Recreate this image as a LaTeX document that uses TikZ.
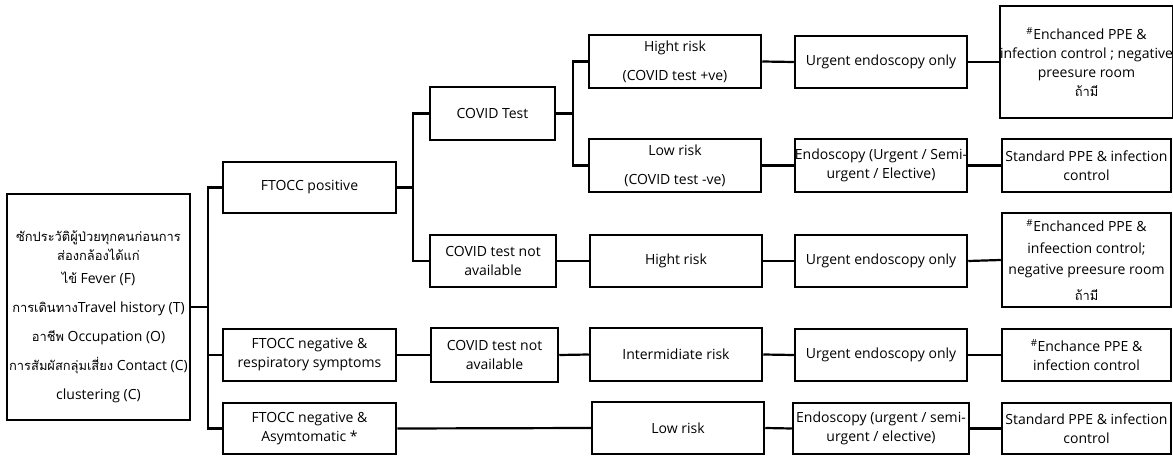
\documentclass[tikz,border=0pt]{standalone}
\usepackage{fontspec}
\setmainfont{Open Sans}
\newfontfamily\thaifont[Script=Thai,Scale=0.92]{Loma}
\usepackage{tikz}

\begin{document}
\begin{tikzpicture}[x=1pt,y=-1pt,
    box/.style={draw,line width=2.5pt,align=center,inner sep=0pt,font=\fontsize{14}{19}\selectfont},
    link/.style={line width=2.2pt}]
\useasboundingbox (0,0) rectangle (1173,457);
% first column
\draw
    (98.5,307) node [box,minimum width=183,minimum height=226] (hist)
    {\rule{0pt}{30pt}{\thaifont ซักประวัติผู้ป่วยทุกคนก่อนการ}\\{\thaifont ส่องกล้องได้แก่}\\[4pt]{\thaifont ไข้} Fever (F)\\[10pt]{\thaifont การเดินทาง}Travel history (T)\\[10pt]{\thaifont อาชีพ} Occupation (O)\\[10pt]{\thaifont การสัมผัสกลุ่มเสี่ยง} Contact (C)\\[10pt]clustering (C)};
\draw
    (309.5,187.5) node [box,minimum width=173,minimum height=51] (pos) {FTOCC positive}
    (309.5,355) node [box,minimum width=173,minimum height=52] (negresp) {FTOCC negative \&\\respiratory symptoms}
    (309.5,428.5) node [box,minimum width=173,minimum height=51] (negasym) {FTOCC negative \&\\Asymtomatic *};
% tests
\draw
    (492.5,113.5) node [box,minimum width=125,minimum height=53] (test) {COVID Test}
    (493,261) node [box,minimum width=126,minimum height=52] (notest) {COVID test not\\available}
    (494.5,355) node [box,minimum width=127,minimum height=54] (notestb) {COVID test not\\available};
% risk
\draw
    (675,61.5) node [box,minimum width=172,minimum height=53] (hirisk) {Hight risk\\[10pt](COVID test +ve)}
    (675,165.5) node [box,minimum width=172,minimum height=53] (lorisk) {Low risk\\[10pt](COVID test -ve)}
    (676,261) node [box,minimum width=172,minimum height=52] (hiriskb) {Hight risk}
    (676,354.5) node [box,minimum width=172,minimum height=53] (midrisk) {Intermidiate risk}
    (678,428) node [box,minimum width=172,minimum height=52] (loriskb) {Low risk};
% endoscopy
\draw
    (881,62) node [box,minimum width=172,minimum height=52] (urg) {Urgent endoscopy only}
    (881,165.5) node [box,minimum width=172,minimum height=53] (endo) {Endoscopy (Urgent / Semi-\\urgent / Elective)}
    (881,261) node [box,minimum width=172,minimum height=52] (urgb) {Urgent endoscopy only}
    (881,355) node [box,minimum width=172,minimum height=52] (urgc) {Urgent endoscopy only}
    (881,428.5) node [box,minimum width=176,minimum height=51] (endob) {Endoscopy (urgent / semi-\\urgent / elective)};
% protection
\draw
    (1086.5,62) node [box,minimum width=169,minimum height=112] (ppe) {\textsuperscript{\#}Enchanced PPE \&\\infection control ; negative\\preesure room\\{\thaifont ถ้ามี}}
    (1086.5,165.5) node [box,minimum width=169,minimum height=53] (std) {Standard PPE \& infection\\control}
    (1086.5,260) node [box,minimum width=169,minimum height=94] (ppeb) {\textsuperscript{\#}Enchanced PPE \&\\[3pt]infeection control;\\[2pt]negative preesure room\\[7pt]{\thaifont ถ้ามี}}
    (1086.5,355) node [box,minimum width=169,minimum height=52] (ppec) {\textsuperscript{\#}Enchance PPE \&\\infection control}
    (1086.5,428.5) node [box,minimum width=169,minimum height=51] (stdb) {Standard PPE \& infection\\control};
% branches
\draw [link] (hist.east) -- +(17,0) coordinate (s1);
\draw [link] (s1) |- (pos.west);
\draw [link] (s1) |- (negresp.west);
\draw [link] (s1) |- (negasym.west);
\draw [link] (pos.east) -- +(16,0) coordinate (s2);
\draw [link] (s2) |- (test.west);
\draw [link] (s2) |- (notest.west);
\draw [link] (test.east) -- +(17,0) coordinate (s3);
\draw [link] (s3) |- (hirisk.west);
\draw [link] (s3) |- (lorisk.west);
\draw [link] (negresp.east) -- (notestb.west);
\draw [link] (notest.east) -- (hiriskb.west);
\draw [link] (notestb.east) -- (midrisk.west);
\draw [link] (negasym.east) -- (loriskb.west);
\draw [link] (hirisk.east) -- (urg.west);
\draw [link] (lorisk.east) -- (endo.west);
\draw [link] (hiriskb.east) -- (urgb.west);
\draw [link] (midrisk.east) -- (urgc.west);
\draw [link] (loriskb.east) -- (endob.west);
\draw [link] (urg.east) -- (ppe.west);
\draw [link] (endo.east) -- (std.west);
\draw [link] (urgb.east) -- (ppeb.west);
\draw [link] (urgc.east) -- (ppec.west);
\draw [link] (endob.east) -- (stdb.west);
\end{tikzpicture}
\end{document}
